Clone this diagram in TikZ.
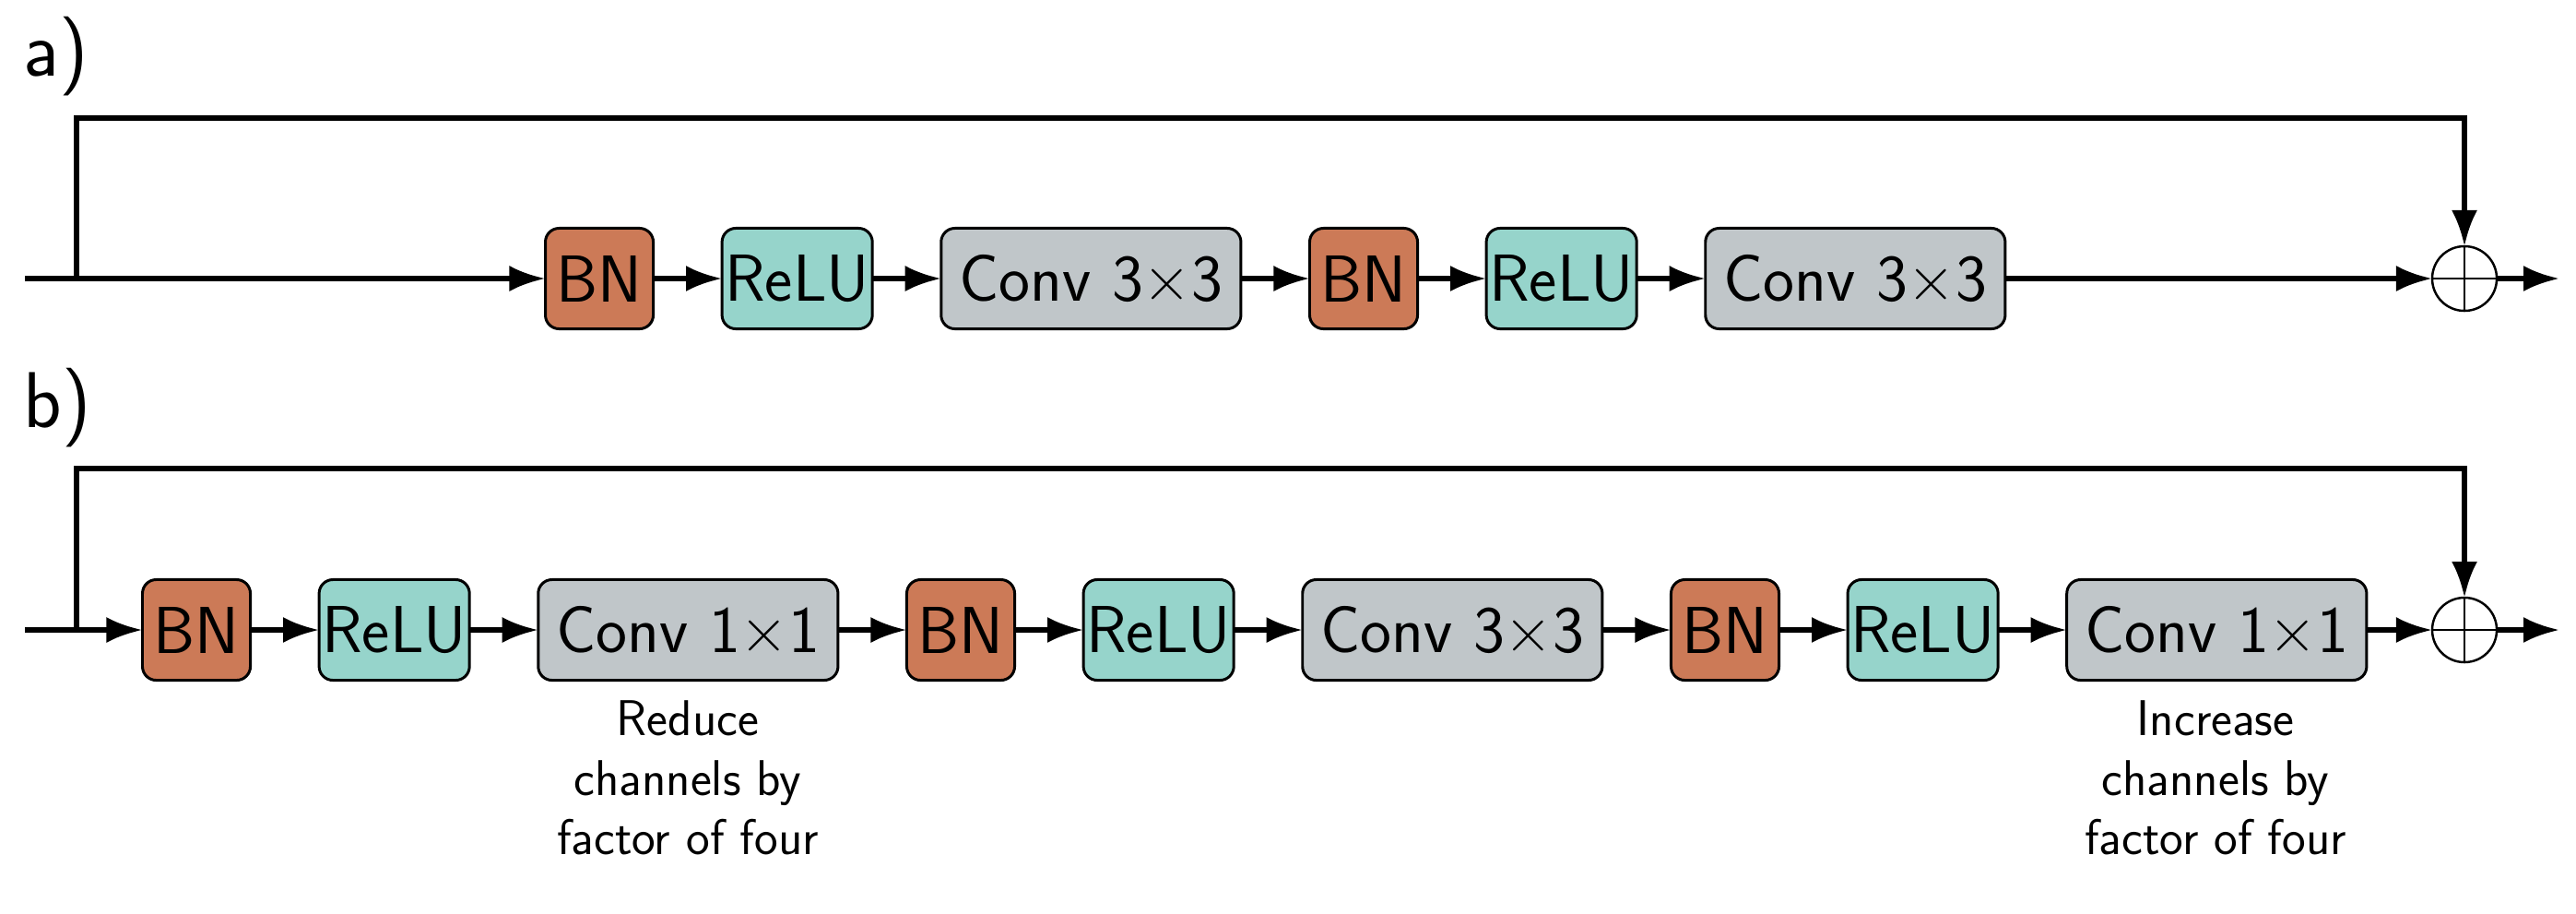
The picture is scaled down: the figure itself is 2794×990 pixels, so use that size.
\documentclass[tikz,border=0pt]{standalone}
\usetikzlibrary{arrows.meta,positioning}
\definecolor{bnc}{HTML}{CC7A57}
\definecolor{reluc}{HTML}{96D4CB}
\definecolor{convc}{HTML}{C0C6C9}
\tikzset{
  blk/.style={draw=black, line width=0.85pt, rounded corners=0.15cm, minimum height=1.09cm,
    inner sep=0pt, outer sep=0pt, font=\sffamily\fontsize{20.5}{24}\selectfont, anchor=west},
  bnbox/.style={blk, fill=bnc, minimum width=1.17cm},
  relubox/.style={blk, fill=reluc, minimum width=1.63cm},
  convbox/.style={blk, fill=convc, minimum width=3.25cm},
  arr/.style={line width=1.6pt, -{Latex[length=0.39cm,width=0.28cm]}},
  sumnode/.style={circle, draw=black, line width=0.7pt, minimum size=0.70cm, inner sep=0pt, outer sep=0pt, fill=white,
    path picture={\draw[line width=0.7pt] (path picture bounding box.north) -- (path picture bounding box.south)
      (path picture bounding box.west) -- (path picture bounding box.east);}},
  lbl/.style={font=\sffamily\fontsize{24.4}{28}\selectfont, anchor=base west, inner sep=0pt},
  note/.style={font=\sffamily\fontsize{15.5}{18.4}\selectfont, align=center, anchor=north, inner sep=0pt}
}
\begin{document}
\begin{tikzpicture}[x=0.01cm,y=-0.01cm]
\useasboundingbox (0,0) rectangle (2794,990);
% ---------- panel a ----------
\node[lbl] (la) at (25,82) {a)};
\coordinate (inA) at (27,302);
\coordinate (brA) at (83,302);
\node[bnbox] (a1) at (591.5,302) {BN};
\node[relubox, right=0.745cm of a1.east, anchor=west] (a2) {ReLU};
\node[convbox, right=0.745cm of a2.east, anchor=west] (a3) {Conv 3×3};
\node[bnbox, right=0.745cm of a3.east, anchor=west] (a4) {BN};
\node[relubox, right=0.745cm of a4.east, anchor=west] (a5) {ReLU};
\node[convbox, right=0.745cm of a5.east, anchor=west] (a6) {Conv 3×3};
\node[sumnode] (sa) at (2673,302) {};
\coordinate (topA) at (2673,128);
\coordinate (outA) at (2776,302);
\draw[arr] (inA) -- (a1);
\draw[arr] (a1) -- (a2);
\draw[arr] (a2) -- (a3);
\draw[arr] (a3) -- (a4);
\draw[arr] (a4) -- (a5);
\draw[arr] (a5) -- (a6);
\draw[arr] (a6) -- (sa);
\draw[arr] (brA) |- (topA) -- (sa.north);
\draw[arr] (sa) -- (outA);
% ---------- panel b ----------
\node[lbl] (lb) at (25,463) {b)};
\coordinate (inB) at (27,683);
\coordinate (brB) at (83,683);
\node[bnbox] (b1) at (154.5,683) {BN};
\node[relubox, right=0.745cm of b1.east, anchor=west] (b2) {ReLU};
\node[convbox, right=0.745cm of b2.east, anchor=west] (b3) {Conv 1×1};
\node[bnbox, right=0.745cm of b3.east, anchor=west] (b4) {BN};
\node[relubox, right=0.745cm of b4.east, anchor=west] (b5) {ReLU};
\node[convbox, right=0.745cm of b5.east, anchor=west] (b6) {Conv 3×3};
\node[bnbox, right=0.745cm of b6.east, anchor=west] (b7) {BN};
\node[relubox, right=0.745cm of b7.east, anchor=west] (b8) {ReLU};
\node[convbox, right=0.745cm of b8.east, anchor=west] (b9) {Conv 1×1};
\node[sumnode] (sb) at (2673,683) {};
\coordinate (topB) at (2673,508);
\coordinate (outB) at (2776,683);
\draw[arr] (inB) -- (b1);
\draw[arr] (b1) -- (b2);
\draw[arr] (b2) -- (b3);
\draw[arr] (b3) -- (b4);
\draw[arr] (b4) -- (b5);
\draw[arr] (b5) -- (b6);
\draw[arr] (b6) -- (b7);
\draw[arr] (b7) -- (b8);
\draw[arr] (b8) -- (b9);
\draw[arr] (b9) -- (sb);
\draw[arr] (brB) |- (topB) -- (sb.north);
\draw[arr] (sb) -- (outB);
\node[note] (n1) at (746,759) {Reduce\\channels by\\factor of four};
\node[note] (n2) at (2403,759) {Increase\\channels by\\factor of four};
\end{tikzpicture}
\end{document}
